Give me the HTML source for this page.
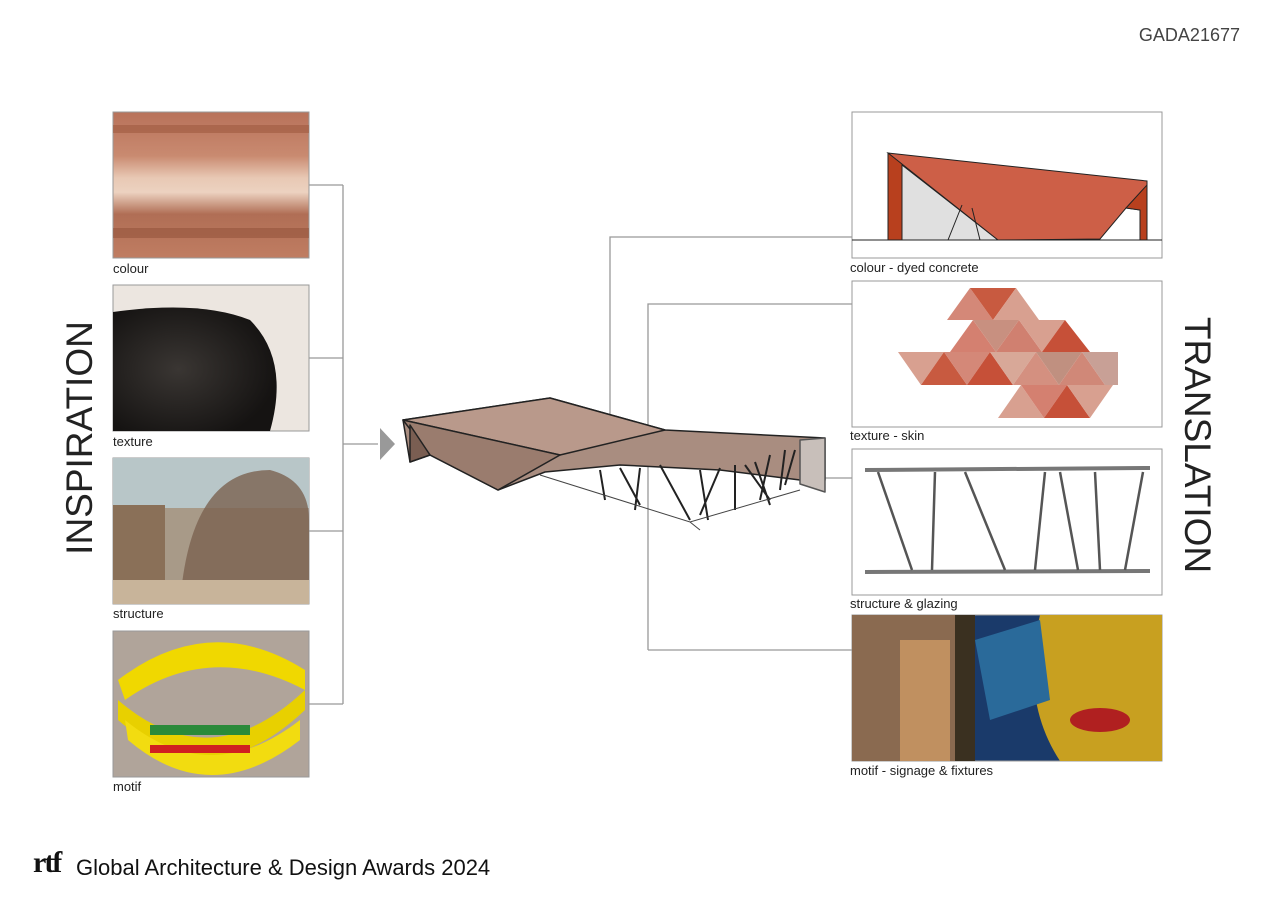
<!DOCTYPE html>
<html><head><meta charset="utf-8"><style>
body{margin:0;background:#fff;width:1273px;height:900px;position:relative;overflow:hidden;font-family:"Liberation Sans",sans-serif}
.lbl{position:absolute;font-size:13px;color:#222}
svg{position:absolute;left:0;top:0}
</style></head><body>
<svg width="1273" height="900" viewBox="0 0 1273 900">
<defs>
<linearGradient id="clay" x1="0" y1="0" x2="0" y2="1">
<stop offset="0" stop-color="#b8725a"/><stop offset=".3" stop-color="#c98a70"/><stop offset=".45" stop-color="#e8c8b4"/><stop offset=".55" stop-color="#ecd2c0"/><stop offset=".7" stop-color="#b06e55"/><stop offset="1" stop-color="#c07d62"/></linearGradient>
<radialGradient id="pot" cx=".4" cy=".5" r=".6"><stop offset="0" stop-color="#3a3633"/><stop offset="1" stop-color="#151312"/></radialGradient>
</defs>
<rect x="113" y="112" width="196" height="146" fill="url(#clay)" stroke="#999"/>
<rect x="113" y="125" width="196" height="8" fill="#9e5a40" opacity=".6"/>
<rect x="113" y="228" width="196" height="10" fill="#8e4e36" opacity=".5"/>
<rect x="113" y="285" width="196" height="146" fill="#ece6e0" stroke="#999"/>
<path d="M113 312 Q200 300 250 320 Q290 360 270 431 L113 431Z" fill="url(#pot)"/>
<rect x="113" y="458" width="196" height="146" fill="#a89a88" stroke="#999"/>
<rect x="113" y="458" width="196" height="50" fill="#b8c6c8"/>
<path d="M113 505 L165 505 L165 604 L113 604Z" fill="#8a7058"/>
<path d="M180 604 Q190 470 270 470 Q309 480 309 520 L309 604Z" fill="#7a6250" opacity=".8"/>
<rect x="113" y="580" width="196" height="24" fill="#c8b49a"/>
<rect x="113" y="631" width="196" height="146" fill="#b0a49a" stroke="#999"/>
<path d="M118 680 Q210 610 305 670 L305 690 Q210 640 125 700Z" fill="#f0d800"/>
<path d="M118 700 Q210 780 305 690 L305 710 Q210 800 118 720Z" fill="#e8d000"/>
<path d="M125 720 Q210 790 300 720 L300 740 Q210 810 128 740Z" fill="#f2dc10"/>
<rect x="150" y="725" width="100" height="10" fill="#2a8a3a"/>
<rect x="150" y="745" width="100" height="8" fill="#d02020"/>
<g stroke="#999" stroke-width="1.3" fill="none">
<path d="M309 185H343M309 358H343M309 531H343M309 704H343M343 185V704M343 444H378"/>
<path d="M610 430V237H852M648 650V304H852M648 650H852M790 478H852"/>
</g>
<polygon points="380,428 395,444 380,460" fill="#999"/>
<g stroke="#222" stroke-width="1.5" stroke-linejoin="round">
<polygon points="403,420 550,398 665,430 825,438 825,480 800,480 720,470 620,465 545,472 498,490 430,455 410,462" fill="#a98d80"/>
<polygon points="403,420 550,398 665,430 560,455" fill="#b9998b"/>
<polygon points="403,420 430,455 498,490 560,455" fill="#9a7c6e"/>
<polygon points="410,425 430,455 410,462" fill="#7a5e52"/>
<polygon points="800,440 825,438 825,492 800,484" fill="#c8bfba" stroke="#555"/>
</g>
<g stroke="#222" stroke-width="2">
<path d="M600 470L605 500M620 468L640 505M640 468L635 510M660 465L690 520M700 470L708 520M720 468L700 515M735 465L735 510M745 465L770 500M755 462L770 505M770 455L760 500M785 450L780 490M795 450L785 485"/>
</g>
<g stroke="#444" stroke-width="1" fill="none"><path d="M540 475L690 522L800 490M690 522L700 530"/></g>
<rect x="852" y="112" width="310" height="146" fill="#fff" stroke="#999"/>
<g stroke="#222" stroke-width="1">
<line x1="852" y1="240" x2="1162" y2="240"/>
<polygon points="888,240 888,153 902,158 902,240" fill="#b8401e"/>
<polygon points="902,165 998,240 902,240" fill="#e0e0e0"/>
<polygon points="888,153 1147,181 1147,240 1140,240 1140,210 1126,208 1100,239 998,240" fill="#cd5f47"/>
<polygon points="1126,208 1147,185 1147,240 1140,240 1140,210" fill="#b8401e"/>
<path d="M948 240L962 205M980 240L972 208" fill="none"/>
</g>
<rect x="852" y="281" width="310" height="146" fill="#fff" stroke="#999"/>
<g stroke="none">
<polygon points="947,320 970,288 993,320" fill="#d48878"/>
<polygon points="970,288 1016,288 993,320" fill="#c85a40"/>
<polygon points="993,320 1016,288 1039,320" fill="#d8a090"/>
<polygon points="950,352 973,320 996,352" fill="#d48070"/>
<polygon points="973,320 1019,320 996,352" fill="#c89080"/>
<polygon points="996,352 1019,320 1042,352" fill="#d08070"/>
<polygon points="1019,320 1065,320 1042,352" fill="#d8a090"/>
<polygon points="1042,352 1065,320 1090,352" fill="#c65038"/>
<polygon points="898,352 944,352 921,385" fill="#d8a090"/>
<polygon points="921,385 944,352 967,385" fill="#c85a40"/>
<polygon points="944,352 990,352 967,385" fill="#d48878"/>
<polygon points="967,385 990,352 1013,385" fill="#c65038"/>
<polygon points="990,352 1036,352 1013,385" fill="#d8a898"/>
<polygon points="1013,385 1036,352 1059,385" fill="#d49080"/>
<polygon points="1036,352 1082,352 1059,385" fill="#c09080"/>
<polygon points="1059,385 1082,352 1105,385" fill="#d08878"/>
<polygon points="1082,352 1118,352 1118,385 1105,385" fill="#c8a096"/>
<polygon points="998,418 1021,385 1044,418" fill="#d8a090"/>
<polygon points="1021,385 1067,385 1044,418" fill="#d48070"/>
<polygon points="1044,418 1067,385 1090,418" fill="#c65038"/>
<polygon points="1067,385 1113,385 1090,418" fill="#d8a090"/>
</g>
<rect x="852" y="449" width="310" height="146" fill="#fff" stroke="#999"/>
<g stroke="#777" stroke-width="4"><line x1="865" y1="470" x2="1150" y2="468"/><line x1="865" y1="572" x2="1150" y2="571"/></g>
<g stroke="#555" stroke-width="2.5"><path d="M878 472L912 570M935 472L932 570M965 472L1005 570M1045 472L1035 570M1060 472L1078 570M1095 472L1100 570M1143 472L1125 570"/></g>
<rect x="852" y="615" width="310" height="146" fill="#1a3a6a" stroke="#999"/>
<rect x="852" y="615" width="122" height="146" fill="#8a6a50"/>
<rect x="900" y="640" width="50" height="121" fill="#c09060"/>
<rect x="955" y="615" width="20" height="146" fill="#3a3020"/>
<path d="M1040 615 L1162 615 L1162 761 L1060 761 Q1020 700 1040 615Z" fill="#c8a020"/>
<path d="M975 640 L1040 620 L1050 700 L990 720Z" fill="#2a6a9a"/>
<ellipse cx="1100" cy="720" rx="30" ry="12" fill="#b02020"/>
</svg>
<div style="position:absolute;right:33px;top:25px;font-size:18px;color:#444">GADA21677</div>
<div class="lbl" style="left:113px;top:261px">colour</div>
<div class="lbl" style="left:113px;top:434px">texture</div>
<div class="lbl" style="left:113px;top:606px">structure</div>
<div class="lbl" style="left:113px;top:779px">motif</div>
<div class="lbl" style="left:850px;top:260px">colour - dyed concrete</div>
<div class="lbl" style="left:850px;top:428px">texture - skin</div>
<div class="lbl" style="left:850px;top:596px">structure &amp; glazing</div>
<div class="lbl" style="left:850px;top:763px">motif - signage &amp; fixtures</div>
<div style="position:absolute;left:80px;top:438px;transform:translate(-50%,-50%) rotate(-90deg);font-size:37px;color:#222;letter-spacing:0px;white-space:nowrap">INSPIRATION</div>
<div style="position:absolute;left:1197px;top:445px;transform:translate(-50%,-50%) rotate(90deg);font-size:37px;color:#222;letter-spacing:0px;white-space:nowrap">TRANSLATION</div>
<div style="position:absolute;left:33px;top:846px;font-size:30px;font-weight:bold;color:#111;letter-spacing:-2px;font-family:'Liberation Serif',serif">rtf</div>
<div style="position:absolute;left:76px;top:855px;font-size:22px;color:#111">Global Architecture &amp; Design Awards 2024</div>
</body></html>
